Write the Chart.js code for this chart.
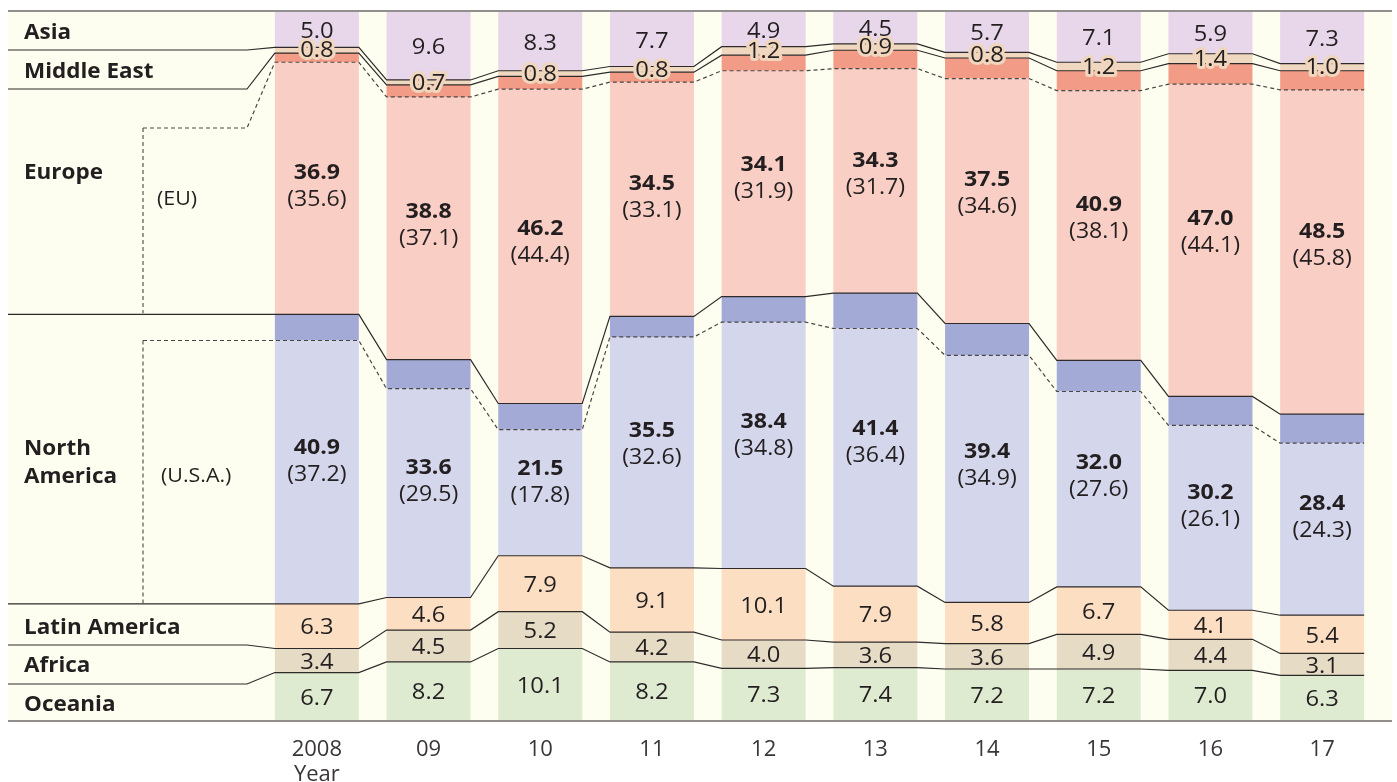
<!DOCTYPE html>
<html>
<head>
<meta charset="utf-8">
<script src="https://cdn.jsdelivr.net/npm/chart.js@4/dist/chart.umd.min.js"></script>
<style>
  html, body { margin: 0; padding: 0; background: #ffffff; }
  #wrap { width: 1397px; height: 782px; position: relative; }
</style>
</head>
<body>
<div id="wrap"><canvas id="chart" width="1397" height="782"></canvas></div>
<script>
// Share of exports by destination region (%), bottom of the stack first
const years = ['2008', '09', '10', '11', '12', '13', '14', '15', '16', '17'];
const yearAxisTitle = 'Year';
const oceania      = [6.7, 8.2, 10.1, 8.2, 7.3, 7.4, 7.2, 7.2, 7.0, 6.3];
const africa       = [3.4, 4.5, 5.2, 4.2, 4.0, 3.6, 3.6, 4.9, 4.4, 3.1];
const latinAmerica = [6.3, 4.6, 7.9, 9.1, 10.1, 7.9, 5.8, 6.7, 4.1, 5.4];
const northAmerica = [40.9, 33.6, 21.5, 35.5, 38.4, 41.4, 39.4, 32.0, 30.2, 28.4];
const usa          = [37.2, 29.5, 17.8, 32.6, 34.8, 36.4, 34.9, 27.6, 26.1, 24.3];
const europe       = [36.9, 38.8, 46.2, 34.5, 34.1, 34.3, 37.5, 40.9, 47.0, 48.5];
const eu           = [35.6, 37.1, 44.4, 33.1, 31.9, 31.7, 34.6, 38.1, 44.1, 45.8];
const middleEast   = [0.8, 0.7, 0.8, 0.8, 1.2, 0.9, 0.8, 1.2, 1.4, 1.0];
const asia         = [5.0, 9.6, 8.3, 7.7, 4.9, 4.5, 5.7, 7.1, 5.9, 7.3];

const diff = (a, b) => a.map((v, i) => Math.round((v - b[i]) * 10) / 10);

// stack layers, bottom to top
const layers = [
  { label: 'Oceania',        data: oceania },
  { label: 'Africa',         data: africa },
  { label: 'Latin America',  data: latinAmerica },
  { label: 'U.S.A.',         data: usa },
  { label: 'North America',  data: diff(northAmerica, usa) },
  { label: 'EU',             data: eu },
  { label: 'Europe',         data: diff(europe, eu) },
  { label: 'Middle East',    data: middleEast },
  { label: 'Asia',           data: asia }
];
const layerColors = ['#dfebd0', '#e6dcc6', '#fcdec2', '#d4d6ec', '#a3aad6',
                     '#f9cec4', '#f29c87', '#f0d8c0', '#e8d6ea'];

const INK = '#231f20';
const FONT = '"Open Sans", "Noto Sans", sans-serif';
const PANEL = { left: 8, right: 1392, top: 11, bottom: 721 };
const BEND_X = 247;      // where the side guide lines start bending toward the first bar
const SUB_X = 143;       // x of the dashed EU / U.S.A. guides
const TEXT_DY = 2;       // optical nudge for middle-baseline text

function drawText(ctx, s, x, y, font, o = {}) {
  ctx.save();
  ctx.font = font;
  ctx.textAlign = o.align || 'center';
  ctx.textBaseline = 'middle';
  ctx.translate(x, y + TEXT_DY);
  ctx.scale(o.sx || 1, 1);
  if (o.halo) {
    ctx.lineJoin = 'round';
    ctx.lineWidth = 6;
    ctx.strokeStyle = o.halo;
    ctx.strokeText(s, 0, 0);
  }
  ctx.fillStyle = o.color || INK;
  ctx.fillText(s, 0, 0);
  ctx.restore();
}

function cumulative(k, i) {
  let s = 0;
  for (let j = 0; j <= k; j++) s += layers[j].data[i];
  return s;
}

const panelPlugin = {
  id: 'panel',
  beforeDraw(chart) {
    const ctx = chart.ctx;
    ctx.save();
    ctx.fillStyle = '#fefef0';
    ctx.fillRect(PANEL.left, PANEL.top, PANEL.right - PANEL.left, PANEL.bottom - PANEL.top);
    ctx.restore();
  },
  afterDatasetsDraw(chart) {
    const ctx = chart.ctx;
    const ys = chart.scales.y;
    const bars = chart.getDatasetMeta(0).data;
    const n = years.length;

    // boundaries between layers: solid for regions, dashed for EU / U.S.A.
    const boundaries = [
      { after: 0, dashed: false, startX: PANEL.left, sideY: 684 },
      { after: 1, dashed: false, startX: PANEL.left, sideY: 645 },
      { after: 2, dashed: false, startX: PANEL.left, sideY: null },
      { after: 3, dashed: true,  startX: SUB_X,      sideY: null },
      { after: 4, dashed: false, startX: PANEL.left, sideY: null },
      { after: 5, dashed: true,  startX: SUB_X,      sideY: 128 },
      { after: 6, dashed: false, startX: PANEL.left, sideY: 89 },
      { after: 7, dashed: false, startX: PANEL.left, sideY: 50 }
    ];

    ctx.save();
    boundaries.forEach(b => {
      const pts = [];
      for (let i = 0; i < n; i++) {
        const el = bars[i];
        const py = ys.getPixelForValue(cumulative(b.after, i));
        pts.push([el.x - el.width / 2, py], [el.x + el.width / 2, py]);
      }
      const sy = b.sideY == null ? pts[0][1] : b.sideY;
      ctx.beginPath();
      ctx.moveTo(b.startX, sy);
      ctx.lineTo(BEND_X, sy);
      pts.forEach(p => ctx.lineTo(p[0], p[1]));
      ctx.lineWidth = 1.2;
      ctx.strokeStyle = b.dashed ? '#4a4646' : '#2e2a2a';
      ctx.setLineDash(b.dashed ? [4, 3] : []);
      ctx.stroke();
    });

    // vertical dashed guides for the EU and U.S.A. sub-shares
    const naTop = ys.getPixelForValue(cumulative(4, 0));
    const usaTop = ys.getPixelForValue(cumulative(3, 0));
    const latTop = ys.getPixelForValue(cumulative(2, 0));
    ctx.beginPath();
    ctx.moveTo(SUB_X, 128); ctx.lineTo(SUB_X, naTop - 1);
    ctx.moveTo(SUB_X, usaTop); ctx.lineTo(SUB_X, latTop - 1);
    ctx.lineWidth = 1.1;
    ctx.strokeStyle = '#4a4646';
    ctx.setLineDash([4, 3]);
    ctx.stroke();
    ctx.setLineDash([]);

    // panel frame, top and bottom
    ctx.beginPath();
    ctx.moveTo(PANEL.left, PANEL.top); ctx.lineTo(PANEL.right, PANEL.top);
    ctx.moveTo(PANEL.left, PANEL.bottom); ctx.lineTo(PANEL.right, PANEL.bottom);
    ctx.lineWidth = 1.5;
    ctx.strokeStyle = '#6f6b6b';
    ctx.stroke();
    ctx.restore();

    // value labels
    const valFont = `22px ${FONT}`;
    const boldFont = `bold 22px ${FONT}`;
    const fmt = v => v.toFixed(1);
    for (let i = 0; i < n; i++) {
      const x = bars[i].x;
      const mid = (lo, hi) => (ys.getPixelForValue(lo) + ys.getPixelForValue(hi)) / 2;
      const c = k => (k < 0 ? 0 : cumulative(k, i));
      drawText(ctx, fmt(oceania[i]), x, mid(c(-1), c(0)), valFont, { sx: 1.08 });
      drawText(ctx, fmt(africa[i]), x, mid(c(0), c(1)), valFont, { sx: 1.08 });
      drawText(ctx, fmt(latinAmerica[i]), x, mid(c(1), c(2)), valFont, { sx: 1.08 });
      const naMid = mid(c(2), c(4));
      drawText(ctx, fmt(northAmerica[i]), x, naMid - 13, boldFont, { sx: 1.05 });
      drawText(ctx, '(' + fmt(usa[i]) + ')', x, naMid + 14, valFont, { sx: 1.05 });
      const euMid = mid(c(4), c(6));
      drawText(ctx, fmt(europe[i]), x, euMid - 13, boldFont, { sx: 1.05 });
      drawText(ctx, '(' + fmt(eu[i]) + ')', x, euMid + 14, valFont, { sx: 1.05 });
      drawText(ctx, fmt(middleEast[i]), x, mid(c(6), c(7)) - 1, valFont, { sx: 1.08, halo: '#efd6bd' });
      drawText(ctx, fmt(asia[i]), x, mid(c(7), c(8)), valFont, { sx: 1.08 });
    }

    // region names on the left
    const nameFont = `bold 21px ${FONT}`;
    const subFont = `20px ${FONT}`;
    const L = { align: 'left', sx: 1.07 };
    drawText(ctx, 'Asia', 24, 31, nameFont, L);
    drawText(ctx, 'Middle East', 24, 70, nameFont, L);
    drawText(ctx, 'Europe', 24, 171, nameFont, L);
    drawText(ctx, '(EU)', 157, 197, subFont, L);
    drawText(ctx, 'North', 24, 447, nameFont, L);
    drawText(ctx, 'America', 24, 475, nameFont, L);
    drawText(ctx, '(U.S.A.)', 161, 474, subFont, L);
    drawText(ctx, 'Latin America', 24, 626, nameFont, L);
    drawText(ctx, 'Africa', 24, 664, nameFont, L);
    drawText(ctx, 'Oceania', 24, 703, nameFont, L);
  }
};

new Chart(document.getElementById('chart'), {
  type: 'bar',
  data: {
    labels: years,
    datasets: layers.map((l, k) => ({
      label: l.label,
      data: l.data,
      backgroundColor: layerColors[k],
      borderWidth: 0,
      categoryPercentage: 1.0,
      barPercentage: 0.752
    }))
  },
  options: {
    responsive: false,
    animation: false,
    devicePixelRatio: 1,
    layout: { padding: { left: 261, right: 19, top: 12, bottom: 0 } },
    plugins: { legend: { display: false }, tooltip: { enabled: false } },
    scales: {
      x: {
        stacked: true,
        grid: { display: false, drawTicks: false },
        border: { display: false },
        ticks: {
          padding: 18,
          color: '#3a3636',
          font: { family: FONT, size: 22, lineHeight: 1.1 },
          maxRotation: 0,
          autoSkip: false,
          callback: (v, i) => (i === 0 ? [years[0], yearAxisTitle] : years[i])
        },
        afterFit: s => { s.height = 62; }
      },
      y: { stacked: true, min: 0, max: 100, display: false }
    }
  },
  plugins: [panelPlugin]
});
</script>
</body>
</html>
